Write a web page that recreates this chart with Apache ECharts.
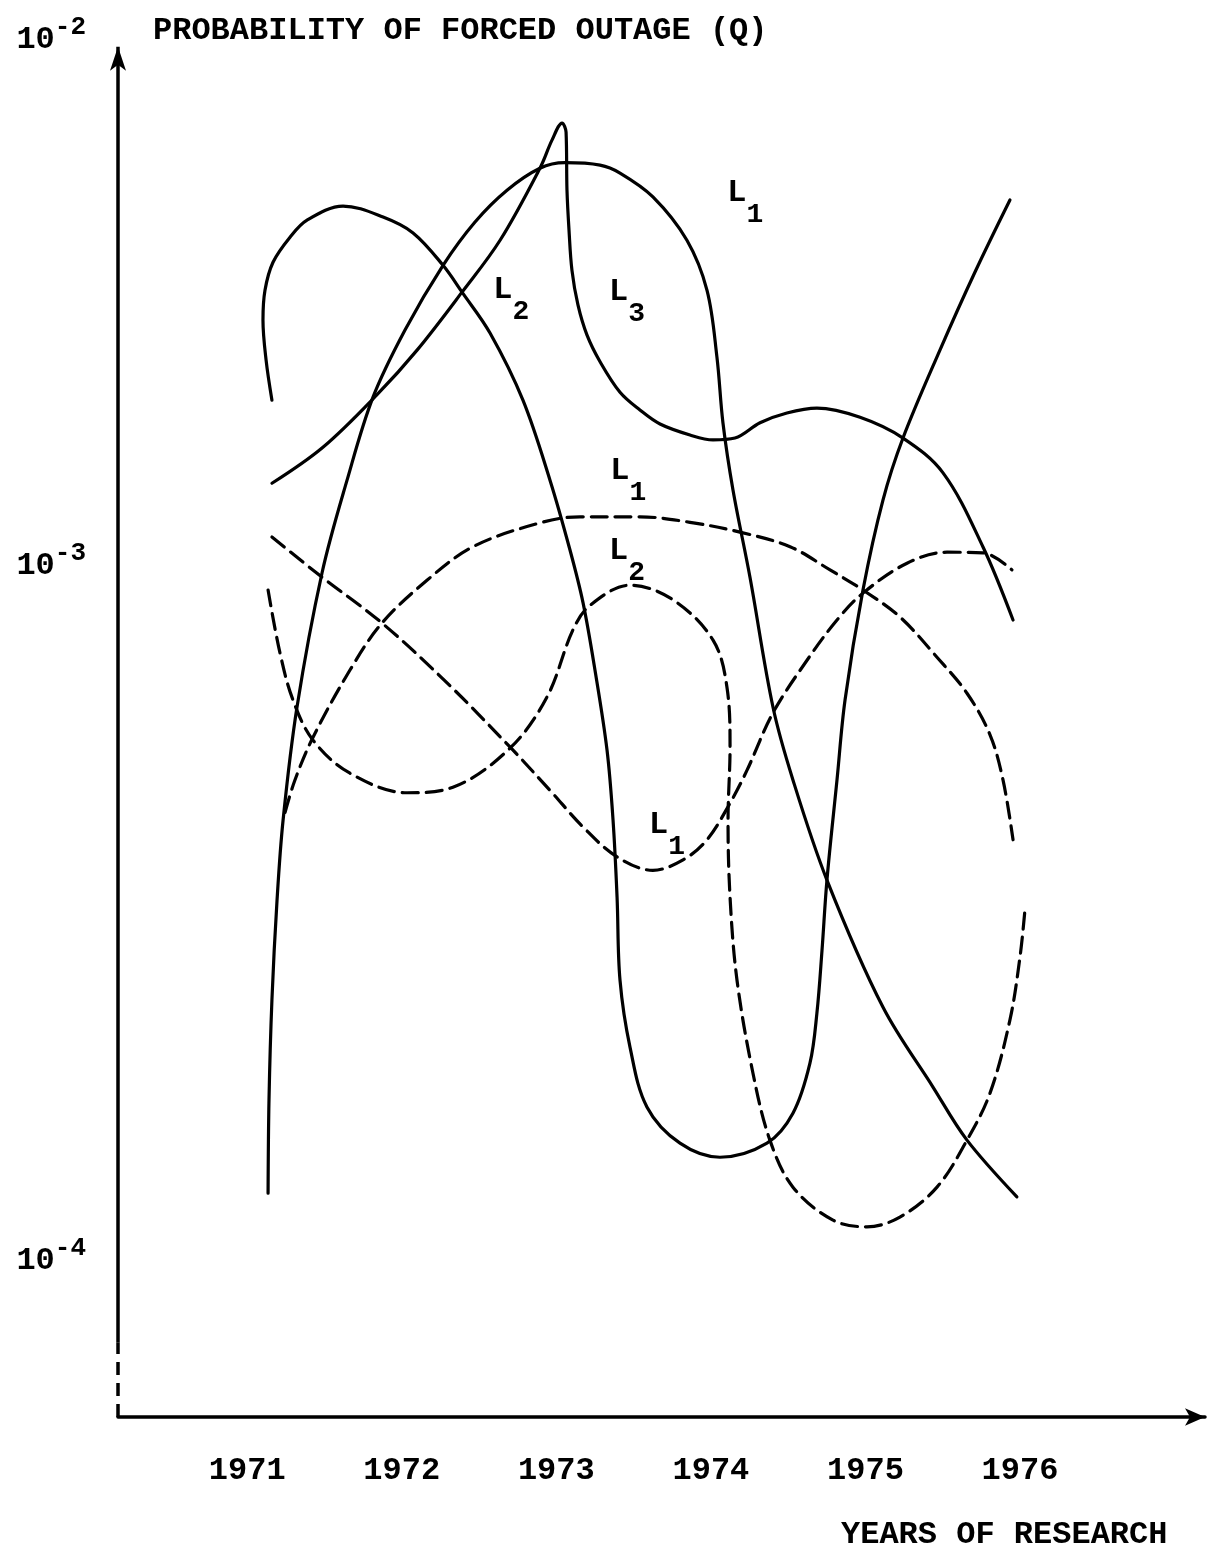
<!DOCTYPE html>
<html><head><meta charset="utf-8">
<script src="https://cdn.jsdelivr.net/npm/echarts@6/dist/echarts.min.js"></script>
<style>html,body{margin:0;padding:0;background:#fff}#c{width:1210px;height:1551px}</style>
</head><body><div id="c"></div>
<script>
// x: year, y: log10(Q)  (probability of forced outage on a log scale)
const yearTicks = [1971, 1972, 1973, 1974, 1975, 1976];
const qTickExp = [-2, -3, -4];
const qTickAt = [-2, -2.862, -4];   // where the hand-drawn decade marks sit

const L1Solid = [[1971.135,-3.889],[1971.141,-3.736],[1971.160,-3.572],[1971.193,-3.409],[1971.232,-3.278],[1971.322,-3.093],[1971.484,-2.873],[1971.646,-2.721],[1971.814,-2.585],[1972.021,-2.475],[1972.267,-2.369],[1972.474,-2.298],[1972.681,-2.246],[1972.894,-2.210],[1973.056,-2.201],[1973.283,-2.205],[1973.412,-2.218],[1973.625,-2.257],[1973.845,-2.328],[1973.975,-2.410],[1974.039,-2.519],[1974.078,-2.627],[1974.143,-2.737],[1974.253,-2.880],[1974.402,-3.093],[1974.531,-3.212],[1974.751,-3.376],[1975.113,-3.584],[1975.437,-3.715],[1975.657,-3.802],[1975.980,-3.895]];

const L2Solid = [[1971.160,-2.590],[1971.122,-2.524],[1971.102,-2.459],[1971.115,-2.410],[1971.167,-2.364],[1971.277,-2.323],[1971.387,-2.295],[1971.620,-2.272],[1971.879,-2.290],[1972.073,-2.316],[1972.267,-2.369],[1972.390,-2.413],[1972.571,-2.480],[1972.784,-2.590],[1972.959,-2.721],[1973.088,-2.835],[1973.173,-2.922],[1973.250,-3.032],[1973.328,-3.163],[1973.367,-3.278],[1973.393,-3.404],[1973.412,-3.540],[1973.477,-3.650],[1973.587,-3.748],[1973.800,-3.807],[1974.059,-3.830],[1974.363,-3.807],[1974.531,-3.758],[1974.641,-3.676],[1974.686,-3.594],[1974.719,-3.491],[1974.751,-3.376],[1974.816,-3.212],[1974.868,-3.081],[1974.984,-2.901],[1975.113,-2.754],[1975.243,-2.652],[1975.482,-2.508],[1975.709,-2.380],[1975.935,-2.262]];

const L3Solid = [[1971.160,-2.726],[1971.490,-2.667],[1971.840,-2.581],[1972.099,-2.508],[1972.390,-2.413],[1972.636,-2.328],[1972.894,-2.210],[1972.972,-2.164],[1973.037,-2.136],[1973.063,-2.151],[1973.069,-2.246],[1973.082,-2.311],[1973.101,-2.377],[1973.140,-2.434],[1973.198,-2.483],[1973.283,-2.527],[1973.412,-2.577],[1973.541,-2.606],[1973.671,-2.629],[1973.865,-2.647],[1974.014,-2.655],[1974.156,-2.652],[1974.318,-2.627],[1974.492,-2.611],[1974.686,-2.603],[1974.965,-2.618],[1975.243,-2.652],[1975.502,-2.709],[1975.760,-2.830],[1975.955,-2.950]];

const L1DashUpper = [[1971.245,-3.265],[1971.309,-3.212],[1971.426,-3.142],[1971.665,-3.032],[1971.872,-2.955],[1972.163,-2.885],[1972.461,-2.830],[1972.894,-2.791],[1973.153,-2.781],[1973.541,-2.781],[1973.865,-2.790],[1974.188,-2.806],[1974.512,-2.830],[1974.771,-2.868],[1974.984,-2.901],[1975.223,-2.945],[1975.463,-3.011],[1975.657,-3.070],[1975.806,-3.138],[1975.890,-3.212],[1975.955,-3.310]];

const L2Dash = [[1971.135,-2.901],[1971.212,-3.004],[1971.296,-3.081],[1971.426,-3.147],[1971.665,-3.201],[1972.034,-3.233],[1972.331,-3.224],[1972.700,-3.160],[1972.940,-3.076],[1973.108,-2.966],[1973.218,-2.926],[1973.477,-2.893],[1973.755,-2.917],[1974.014,-2.983],[1974.104,-3.060],[1974.124,-3.158],[1974.111,-3.278],[1974.124,-3.404],[1974.169,-3.540],[1974.272,-3.692],[1974.382,-3.802],[1974.531,-3.879],[1974.790,-3.933],[1975.010,-3.944],[1975.223,-3.928],[1975.463,-3.879],[1975.657,-3.802],[1975.806,-3.725],[1975.935,-3.605],[1976.000,-3.502],[1976.032,-3.425]];

const L1DashLower = [[1971.160,-2.814],[1971.484,-2.880],[1971.872,-2.955],[1972.293,-3.053],[1972.700,-3.158],[1972.959,-3.229],[1973.173,-3.289],[1973.393,-3.338],[1973.625,-3.360],[1973.820,-3.343],[1973.975,-3.310],[1974.124,-3.250],[1974.234,-3.196],[1974.402,-3.102],[1974.622,-3.016],[1974.816,-2.950],[1974.984,-2.906],[1975.269,-2.857],[1975.528,-2.839],[1975.760,-2.840],[1975.948,-2.868]];

const curveLabelSub = ['1','2','3','1','2','1'];
const curveLabelPos = [[1974.221,-2.267],[1972.707,-2.426],[1973.457,-2.429],[1973.464,-2.722],[1973.457,-2.853],[1973.716,-3.302]];

const X_MIN = 1970.164, X_MAX = 1977.197;
const Y_MIN = -4.2555, Y_MAX = -2, Y_BREAK = -4.134, Y_ARROW = -2.011;

const FONT = 'Liberation Mono';
const INK = '#000';

const chart = echarts.init(document.getElementById('c'), null, {renderer: 'canvas'});

function curve(name, data, dashed) {
  return {
    name, type: 'line', data, smooth: 0.35, symbol: 'none', showSymbol: false,
    clip: false, silent: true,
    lineStyle: {color: INK, width: 3.2, type: dashed ? [16, 8] : 'solid', cap: 'round', join: 'round'}
  };
}

const option = {
  animation: false,
  backgroundColor: '#fff',
  title: [
    {text: 'PROBABILITY OF FORCED OUTAGE (Q)', left: 148, top: 10,
     textStyle: {fontFamily: FONT, fontWeight: 'bold', fontSize: 32, color: INK}},
    {text: 'YEARS OF RESEARCH', left: 836, top: 1514,
     textStyle: {fontFamily: FONT, fontWeight: 'bold', fontSize: 32, color: INK}}
  ],
  grid: {left: 118, right: 5, top: 40, bottom: 134, containLabel: false, outerBoundsMode: 'none'},
  xAxis: {
    type: 'value', min: X_MIN, max: X_MAX,
    axisLine: {show: true, symbol: ['none', 'arrow'], symbolSize: [13, 20], lineStyle: {color: INK, width: 3.5}},
    axisTick: {show: false},
    splitLine: {show: false},
    axisLabel: {customValues: yearTicks, formatter: v => String(Math.round(v)), margin: 38,
      fontFamily: FONT, fontWeight: 'bold', fontSize: 32, color: INK}
  },
  yAxis: {
    type: 'value', min: Y_MIN, max: Y_MAX,
    axisLine: {show: false}, axisTick: {show: false}, splitLine: {show: false},
    axisLabel: {
      customValues: qTickAt, margin: 32,
      formatter: v => {
        let best = 0;
        qTickAt.forEach((t, i) => { if (Math.abs(t - v) < Math.abs(qTickAt[best] - v)) best = i; });
        return '{z| }{b|10}{p|' + qTickExp[best] + '}';
      },
      rich: {
        z: {fontSize: 1, lineHeight: 52},
        b: {fontFamily: FONT, fontWeight: 'bold', fontSize: 32, color: INK, lineHeight: 32, verticalAlign: 'middle'},
        p: {fontFamily: FONT, fontWeight: 'bold', fontSize: 26, color: INK, lineHeight: 26, verticalAlign: 'top'}
      }
    }
  },
  series: [
    curve('L1 solid', L1Solid, false),
    curve('L2 solid', L2Solid, false),
    curve('L3 solid', L3Solid, false),
    curve('L1 dashed upper', L1DashUpper, true),
    curve('L2 dashed', L2Dash, true),
    curve('L1 dashed lower', L1DashLower, true),
    {
      type: 'scatter', silent: true, clip: false, symbolSize: 1,
      itemStyle: {color: 'rgba(0,0,0,0)', opacity: 1},
      data: curveLabelPos.map((p, i) => ({value: p, name: curveLabelSub[i]})),
      label: {
        show: true, position: 'inside', color: INK, opacity: 1, textBorderWidth: 0,
        formatter: p => '{z| }{l|L}{s|' + p.name + '}',
        rich: {
          z: {fontSize: 1, lineHeight: 52},
          l: {fontFamily: FONT, fontWeight: 'bold', fontSize: 32, color: INK, lineHeight: 34, verticalAlign: 'top'},
          s: {fontFamily: FONT, fontWeight: 'bold', fontSize: 28, color: INK, lineHeight: 32, verticalAlign: 'bottom'}
        }
      },
      markLine: {
        silent: true, symbol: ['none', 'none'], label: {show: false},
        lineStyle: {color: INK, width: 3.5, type: 'solid'},
        data: [
          [{coord: [X_MIN, Y_BREAK]}, {coord: [X_MIN, Y_ARROW], symbol: 'arrow', symbolSize: [12, 24]}],
          [{coord: [X_MIN, Y_MIN], lineStyle: {type: [13, 8], color: INK, width: 3.5}}, {coord: [X_MIN, Y_BREAK]}]
        ]
      }
    }
  ]
};
chart.setOption(option);
</script>
</body></html>
